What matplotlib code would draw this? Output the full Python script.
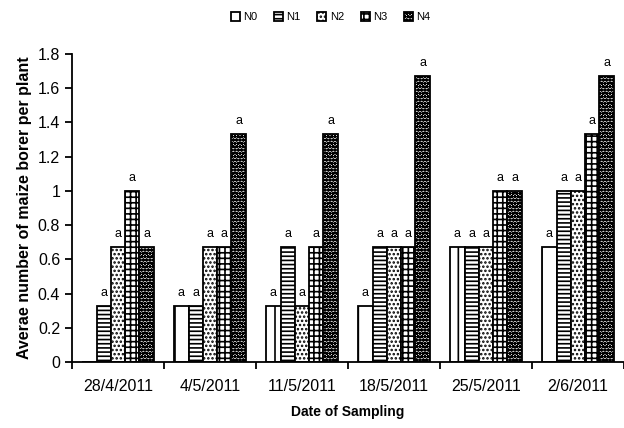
import numpy as np
import matplotlib.pyplot as plt

plt.rcParams['font.family'] = ['Liberation Sans', 'DejaVu Sans']
plt.rcParams['hatch.linewidth'] = 1.2

dates = ['28/4/2011', '4/5/2011', '11/5/2011', '18/5/2011', '25/5/2011', '2/6/2011']
series = ['N0', 'N1', 'N2', 'N3', 'N4']
N0 = [0, 0.33, 0.33, 0.33, 0.67, 0.67]
N1 = [0.33, 0.33, 0.67, 0.67, 0.67, 1.0]
N2 = [0.67, 0.67, 0.33, 0.67, 0.67, 1.0]
N3 = [1.0, 0.67, 0.67, 0.67, 1.0, 1.33]
N4 = [0.67, 1.33, 1.33, 1.67, 1.0, 1.67]
letters = ['a'] * 6

values = [N0, N1, N2, N3, N4]
hatches = ['|', '----', '....', '+++', 'ooooo']

fig = plt.figure(figsize=(6.24, 4.28), dpi=100)
ax = fig.add_axes([72 / 624, 66 / 428, 1 - 72 / 624, 0.72])

x = np.arange(len(dates))
w = 0.155
for i, (name, vals, h) in enumerate(zip(series, values, hatches)):
    pos = x + (i - 2) * w
    ax.bar(pos, vals, w, facecolor='white', edgecolor='black', hatch=h,
           linewidth=1.3, label=name)
    for p, v, l in zip(pos, vals, letters):
        if v > 0:
            ax.text(p, v + 0.04, l, ha='center', va='bottom', fontsize=9)

ax.set_xlim(-0.5, -0.5 + (624 - 72) / 93.5)
ax.set_ylim(0, 1.8)
ax.set_yticks(np.arange(0, 1.81, 0.2))
ax.set_yticklabels(['0', '0.2', '0.4', '0.6', '0.8', '1', '1.2', '1.4', '1.6', '1.8'])
ax.set_xticks(x)
ax.set_xticklabels(dates)
ax.set_xticks(np.arange(-0.5, 6, 1), minor=True)
ax.tick_params(axis='x', which='major', length=0, pad=12, labelsize=11.5)
ax.tick_params(axis='x', which='minor', length=5, width=1.3, direction='out')
ax.tick_params(axis='y', length=5, width=1.3, labelsize=11.5)
ax.spines['top'].set_visible(False)
ax.spines['right'].set_visible(False)
ax.spines['left'].set_linewidth(1.3)
ax.spines['bottom'].set_linewidth(1.3)

ax.set_ylabel('Averae number of maize borer per plant', fontsize=11.5, fontweight='bold')
ax.set_xlabel('Date of Sampling', fontsize=10, fontweight='bold', labelpad=8)

fig.legend(loc='upper center', bbox_to_anchor=(0.53, 0.995), ncol=5, frameon=False,
           fontsize=8, handlelength=0.8, handleheight=0.8, handletextpad=0.3,
           columnspacing=1.5)

fig.savefig('out.png', dpi=100)
